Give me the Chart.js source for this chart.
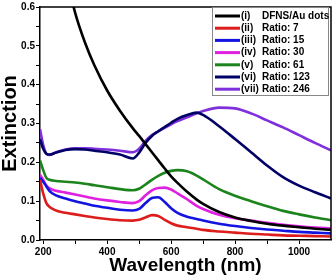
<!DOCTYPE html>
<html>
<head>
<meta charset="utf-8">
<script src="https://cdn.jsdelivr.net/npm/chart.js@4/dist/chart.umd.min.js"></script>
<style>
  html, body { margin: 0; padding: 0; background: #fff; }
  #wrap { width: 334px; height: 276px; }
</style>
</head>
<body>
<div id="wrap"><canvas id="uvChart"></canvas></div>
<script>
// wavelength grid (nm) shared by all spectra
const wavelengths = [190, 200, 210, 220, 240, 270, 300, 330, 360, 400, 440, 480, 500, 520, 540, 560, 580, 600, 620, 650, 680, 700, 750, 800, 850, 900, 950, 1000, 1050, 1100];

const dfnsAu   = [1.3, 1.2, 1.1, 1.0, 0.85, 0.69, 0.585, 0.51, 0.45, 0.385, 0.333, 0.288, 0.268, 0.247, 0.226, 0.205, 0.184, 0.164, 0.147, 0.124, 0.104, 0.093, 0.072, 0.058, 0.049, 0.042, 0.037, 0.033, 0.029, 0.026];
const ratio7   = [0.155, 0.12, 0.095, 0.085, 0.076, 0.07, 0.066, 0.062, 0.058, 0.054, 0.051, 0.05, 0.052, 0.058, 0.064, 0.062, 0.052, 0.043, 0.037, 0.033, 0.029, 0.026, 0.022, 0.019, 0.016, 0.014, 0.012, 0.011, 0.01, 0.009];
const ratio15  = [0.16, 0.15, 0.138, 0.126, 0.115, 0.107, 0.1, 0.094, 0.088, 0.083, 0.078, 0.076, 0.08, 0.095, 0.108, 0.11, 0.098, 0.082, 0.07, 0.06, 0.054, 0.05, 0.042, 0.036, 0.031, 0.027, 0.024, 0.021, 0.019, 0.017];
const ratio30  = [0.168, 0.155, 0.14, 0.133, 0.127, 0.122, 0.117, 0.112, 0.107, 0.102, 0.098, 0.095, 0.1, 0.115, 0.128, 0.134, 0.135, 0.13, 0.12, 0.105, 0.088, 0.08, 0.065, 0.056, 0.05, 0.044, 0.039, 0.035, 0.032, 0.03];
const ratio61  = [0.205, 0.18, 0.16, 0.155, 0.152, 0.15, 0.148, 0.145, 0.141, 0.136, 0.131, 0.128, 0.132, 0.143, 0.155, 0.165, 0.173, 0.178, 0.18, 0.177, 0.166, 0.156, 0.131, 0.114, 0.1, 0.087, 0.075, 0.066, 0.058, 0.051];
const ratio123 = [0.26, 0.235, 0.222, 0.22, 0.225, 0.232, 0.234, 0.233, 0.23, 0.226, 0.22, 0.21, 0.225, 0.25, 0.268, 0.28, 0.291, 0.302, 0.312, 0.322, 0.328, 0.322, 0.293, 0.26, 0.226, 0.192, 0.162, 0.14, 0.123, 0.107];
const ratio246 = [0.285, 0.245, 0.222, 0.219, 0.226, 0.233, 0.236, 0.236, 0.235, 0.233, 0.23, 0.226, 0.235, 0.255, 0.27, 0.28, 0.289, 0.298, 0.306, 0.316, 0.326, 0.332, 0.341, 0.339, 0.326, 0.308, 0.29, 0.27, 0.25, 0.231];

const seriesTags  = ['(i)', '(ii)', '(iii)', '(iv)', '(v)', '(vi)', '(vii)'];
const seriesNames = ['DFNS/Au dots', 'Ratio: 7', 'Ratio: 15', 'Ratio: 30', 'Ratio: 61', 'Ratio: 123', 'Ratio: 246'];
const seriesData  = [dfnsAu, ratio7, ratio15, ratio30, ratio61, ratio123, ratio246];
const colors = ['#000000', '#dd1c1c', '#1414e0', '#e020e0', '#1c841c', '#000066', '#7f2fdc'];

const xMajor = [200, 400, 600, 800, 1000];
const xTicks = [200, 300, 400, 500, 600, 700, 800, 900, 1000];
const yTicks = [0, 0.05, 0.1, 0.15, 0.2, 0.25, 0.3, 0.35, 0.4, 0.45, 0.5, 0.55, 0.6];

const boldFont = 'Arial, "Liberation Sans", sans-serif';

// box legend in the upper right corner plus the top/right frame lines
const framePlugin = {
    id: 'frameAndLegend',
    afterDraw(chart) {
        const { ctx, chartArea: a } = chart;
        ctx.save();
        ctx.strokeStyle = '#000';
        ctx.lineWidth = 1.5;
        ctx.beginPath();
        ctx.moveTo(a.left, a.top);
        ctx.lineTo(a.right, a.top);
        ctx.lineTo(a.right, a.bottom);
        ctx.stroke();

        const bx = 212, by = a.top, bw = a.right - 3 - bx, bh = 88;
        ctx.fillStyle = '#fff';
        ctx.fillRect(bx, by, bw, bh);
        ctx.strokeStyle = '#888';
        ctx.lineWidth = 1;
        ctx.strokeRect(bx + 0.5, by + 0.5, bw, bh);

        ctx.font = 'bold 10px ' + boldFont;
        ctx.textBaseline = 'middle';
        ctx.fillStyle = '#000';
        seriesNames.forEach((name, i) => {
            const y = by + 9 + i * 12.2;
            ctx.strokeStyle = colors[i];
            ctx.lineWidth = 3;
            ctx.beginPath();
            ctx.moveTo(bx + 3, y);
            ctx.lineTo(bx + 28, y);
            ctx.stroke();
            ctx.fillText(seriesTags[i], bx + 29, y);
            ctx.fillText(name, bx + 50, y);
        });
        ctx.restore();
    }
};

new Chart(document.getElementById('uvChart'), {
    type: 'line',
    data: {
        labels: wavelengths,
        datasets: seriesData.map((vals, i) => ({
            label: seriesTags[i] + ' ' + seriesNames[i],
            data: vals.map((v, j) => ({ x: wavelengths[j], y: v })),
            borderColor: colors[i],
            borderWidth: 2.6,
            pointRadius: 0,
            fill: false,
            cubicInterpolationMode: 'monotone'
        }))
    },
    options: {
        responsive: true,
        maintainAspectRatio: false,
        animation: false,
        layout: { padding: { top: 4, right: 3, left: 0, bottom: 0 } },
        plugins: {
            legend: { display: false },
            tooltip: { enabled: false }
        },
        scales: {
            x: {
                type: 'linear',
                min: 190,
                max: 1100,
                afterBuildTicks: scale => { scale.ticks = xTicks.map(v => ({ value: v })); },
                afterFit: scale => { scale.height = 36; },
                grid: { display: true, drawOnChartArea: false, tickLength: 4, color: '#000', tickWidth: 1 },
                border: { color: '#000', width: 1.5 },
                ticks: {
                    autoSkip: false,
                    maxRotation: 0,
                    padding: 2,
                    color: '#000',
                    font: { family: boldFont, size: 10, weight: 'bold' },
                    callback: v => xMajor.includes(v) ? String(v) : ''
                },
                title: {
                    display: true,
                    text: 'Wavelength (nm)',
                    color: '#000',
                    font: { family: boldFont, size: 19, weight: 'bold', lineHeight: 1 },
                    padding: { top: 0, bottom: 1 }
                }
            },
            y: {
                min: 0,
                max: 0.6,
                afterBuildTicks: scale => { scale.ticks = yTicks.map(v => ({ value: v })); },
                afterFit: scale => { scale.width = 40; },
                grid: { display: true, drawOnChartArea: false, tickLength: 4, color: '#000', tickWidth: 1 },
                border: { color: '#000', width: 1.5 },
                ticks: {
                    autoSkip: false,
                    padding: 1,
                    color: '#000',
                    font: { family: boldFont, size: 10, weight: 'bold' },
                    callback: v => (Math.round(v * 100) % 10 === 0) ? v.toFixed(1) : ''
                },
                title: {
                    display: true,
                    text: 'Extinction',
                    color: '#000',
                    font: { family: boldFont, size: 20, weight: 'bold', lineHeight: 1 },
                    padding: { top: 0, bottom: 0 }
                }
            }
        }
    },
    plugins: [framePlugin]
});
</script>
</body>
</html>
